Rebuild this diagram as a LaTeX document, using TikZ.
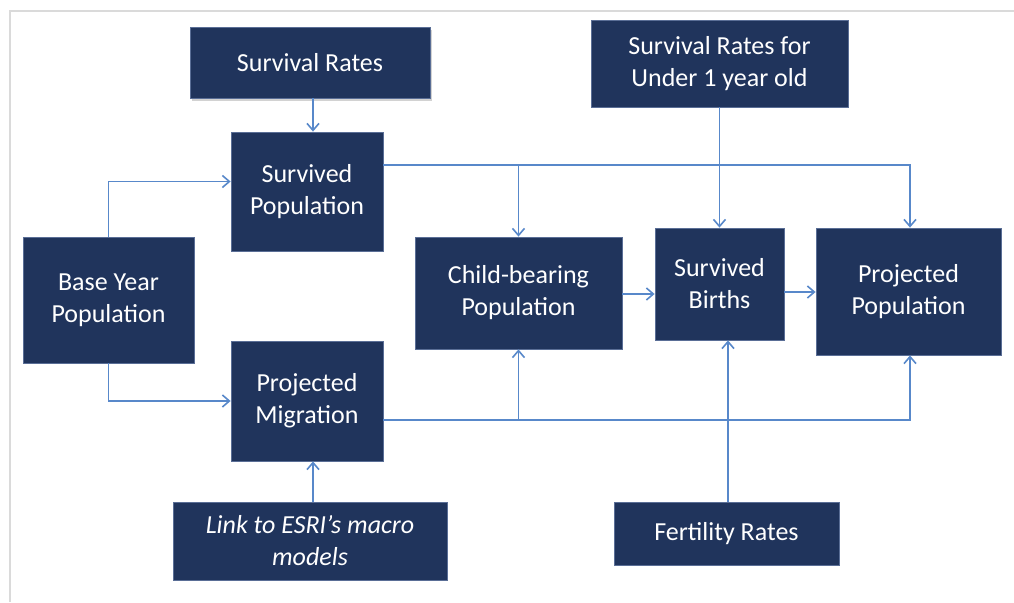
\documentclass[tikz,border=0pt]{standalone}
\usepackage{fontspec}
\setmainfont{Carlito}
\usetikzlibrary{arrows.meta,shadows,calc}
\definecolor{boxfill}{RGB}{32,52,92}
\definecolor{boxline}{RGB}{90,110,150}
\definecolor{linkc}{RGB}{88,136,202}
\definecolor{framec}{RGB}{218,218,218}
\begin{document}
\begin{tikzpicture}[x=1pt,y=1pt,
  box/.style={rectangle, fill=boxfill, draw=boxline, line width=0.8pt, inner sep=0pt,
    text=white, align=center, font=\fontsize{26}{32}\selectfont},
  arr/.style={draw=linkc, line width=1.8pt, -{Straight Barb[length=7pt,width=12pt,line width=1.6pt]}},
  ln/.style={draw=linkc, line width=1.8pt}]
\useasboundingbox (0,0) rectangle (1014,-602);
\fill[white] (0,0) rectangle (1014,-602);
\draw[framec, line width=1.5pt] (10,-602) -- (10,-11) -- (1014,-11);

\node[box, minimum width=240, minimum height=71,
  drop shadow={shadow xshift=2pt, shadow yshift=-3pt, opacity=0.35}] (sr) at (310,-62.5) {Survival Rates};
\node[box, minimum width=257, minimum height=87] (su) at (719.5,-63.5) {Survival Rates for\\Under 1 year old};
\node[box, minimum width=152, minimum height=119] (sp) at (307,-191.5) {Survived\\Population};
\node[box, minimum width=171, minimum height=126] (by) at (108.5,-300) {Base Year\\Population};
\node[box, minimum width=152, minimum height=120] (pm) at (307,-401) {Projected\\Migration};
\node[box, minimum width=207, minimum height=112] (cb) at (518.5,-293) {Child-bearing\\Population};
\node[box, minimum width=129, minimum height=112] (sb) at (719.5,-284) {Survived\\Births};
\node[box, minimum width=185, minimum height=127] (pp) at (908.5,-291.5) {Projected\\Population};
\node[box, minimum width=274, minimum height=78, font=\fontsize{26}{32}\selectfont\itshape] (lk) at (310,-541) {Link to ESRI’s macro\\models};
\node[box, minimum width=225, minimum height=63] (fr) at (726.5,-533.5) {Fertility Rates};

% connectors
\draw[arr] ([xshift=3pt]sr.south) -- ([xshift=3pt]sr.south |- sp.north);
\draw[arr] (by.north) |- ([yshift=10pt]sp.west);
\draw[arr] (by.south) |- (pm.west);
\coordinate (t1) at ([yshift=26.5pt]sp.east);
\draw[arr] (t1) -| ([xshift=1.5pt]pp.north);
\draw[arr] (t1 -| cb.north) -- (cb.north);
\draw[arr] (su.south) -- (sb.north);
\draw[arr] ([yshift=-1pt]cb.east) -- ([yshift=-1pt]cb.east -| sb.west);
\draw[arr] ([yshift=-8pt]sb.east) -- ([yshift=-8pt]sb.east -| pp.west);
\coordinate (t2) at ([yshift=-19pt]pm.east);
\draw[arr] (t2) -| ([xshift=1.5pt]pp.south);
\draw[arr] (t2 -| cb.south) -- (cb.south);
\draw[arr] ([xshift=1.5pt]fr.north) -- ([xshift=1.5pt]fr.north |- sb.south);
\draw[arr] ([xshift=3pt]lk.north) -- ([xshift=3pt]lk.north |- pm.south);
\end{tikzpicture}
\end{document}
